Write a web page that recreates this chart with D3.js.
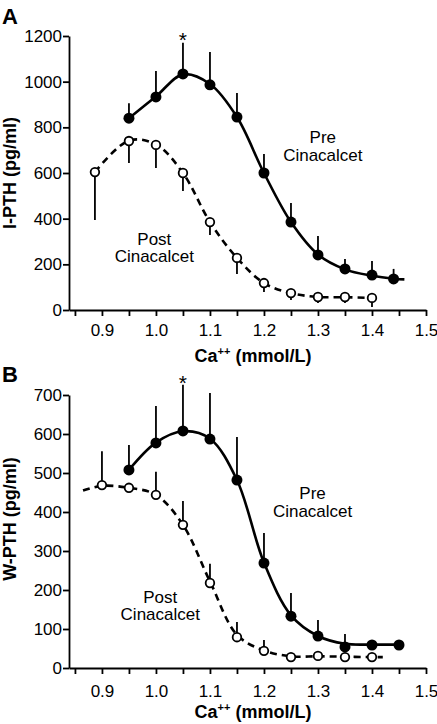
<!DOCTYPE html>
<html>
<head>
<meta charset="utf-8">
<script src="https://cdn.jsdelivr.net/npm/d3@7"></script>
<style>
  body { margin: 0; background: #fff; }
  svg { display: block; }
  text { font-family: "Liberation Sans", Arial, Helvetica, sans-serif; fill: #000; }
</style>
</head>
<body>
<svg id="chart" width="437" height="724"></svg>
<script>
// ---------- DATA ----------
// x-axis ticks (Ca++ mmol/L)
const xTicks = [0.85, 0.9, 0.95, 1.0, 1.05, 1.1, 1.15, 1.2, 1.25, 1.3, 1.35, 1.4, 1.45, 1.5];
const xTickLabels = ["", "0.9", "", "1.0", "", "1.1", "", "1.2", "", "1.3", "", "1.4", "", "1.5"];
const yTicksA = [0, 200, 400, 600, 800, 1000, 1200];
const yTicksB = [0, 100, 200, 300, 400, 500, 600, 700];

// Panel A: I-PTH (pg/ml)
const caA_pre = [0.95, 1.0, 1.05, 1.1, 1.15, 1.2, 1.25, 1.3, 1.35, 1.4, 1.44];
const pthA_pre = [840, 933, 1034, 986, 845, 600, 385, 241, 180, 153, 136];
const errA_preTop = [905, 1047, 1170, 1130, 950, 683, 469, 324, 223, 215, 180];
const caA_post = [0.887, 0.95, 1.0, 1.05, 1.1, 1.15, 1.2, 1.25, 1.3, 1.35, 1.4];
const pthA_post = [604, 740, 723, 600, 385, 228, 118, 74, 57, 57, 53];
const errA_postLow = [394, 644, 622, 521, 328, 158, 79, 44, 31, 31, 13];
// fitted curves, panel A
const fitA_pre_x = [0.95, 1.0, 1.05, 1.1, 1.15, 1.2, 1.25, 1.3, 1.35, 1.4, 1.44, 1.46];
const fitA_pre_y = [840, 935, 1032, 990, 845, 600, 385, 243, 178, 150, 137, 134];
const fitA_post_x = [0.887, 0.95, 1.0, 1.05, 1.1, 1.15, 1.2, 1.25, 1.3, 1.35, 1.4];
const fitA_post_y = [604, 742, 725, 600, 385, 228, 118, 74, 57, 56, 53];

// Panel B: W-PTH (pg/ml)
const caB_pre = [0.95, 1.0, 1.05, 1.1, 1.15, 1.2, 1.25, 1.3, 1.35, 1.4, 1.45];
const pthB_pre = [508, 577, 608, 587, 482, 269, 133, 82, 54, 59, 59];
const errB_preTop = [572, 672, 726, 705, 592, 346, 192, 123, 87, 59, 59];
const caB_post = [0.9, 0.95, 1.0, 1.05, 1.1, 1.15, 1.2, 1.25, 1.3, 1.35, 1.4];
const pthB_post = [469, 462, 444, 367, 218, 79, 44, 28, 31, 28, 28];
const errB_postTop = [556, 462, 503, 428, 267, 118, 72, 28, 31, 28, 28];
// fitted curves, panel B
const fitB_pre_x = [0.95, 1.0, 1.05, 1.1, 1.15, 1.2, 1.25, 1.3, 1.35, 1.4, 1.45];
const fitB_pre_y = [508, 578, 607, 588, 482, 270, 135, 82, 62, 60, 60];
const fitB_post_x = [0.865, 0.9, 0.95, 1.0, 1.05, 1.1, 1.15, 1.2, 1.25, 1.3, 1.35, 1.4, 1.42];
const fitB_post_y = [455, 467, 462, 444, 367, 222, 85, 45, 30, 30, 29, 28, 28];

// ---------- DRAWING ----------
const svg = d3.select("#chart");
const FONT_TICK = 17;

function panel(cfg) {
  const x = d3.scaleLinear().domain([0.839, 1.5]).range([69, 426]);
  const y = d3.scaleLinear().domain(cfg.yDomain).range([cfg.yBottom, cfg.yTop]);
  const g = svg.append("g");

  // axes
  const xAxis = d3.axisBottom(x).tickValues(xTicks)
    .tickFormat((d, i) => xTickLabels[i]).tickSize(6).tickSizeOuter(0).tickPadding(cfg.xPad);
  const gx = g.append("g").attr("transform", `translate(0,${cfg.yBottom})`).call(xAxis);
  const yAxis = d3.axisLeft(y).tickValues(cfg.yTicks).tickFormat(d3.format("d"))
    .tickSize(6).tickSizeOuter(0).tickPadding(1);
  const gy = g.append("g").attr("transform", "translate(69,0)").call(yAxis);
  [gx, gy].forEach(a => {
    a.selectAll("path.domain").attr("stroke", "#000").attr("stroke-width", 1.8);
    a.selectAll(".tick line").attr("stroke", "#000").attr("stroke-width", 1.8);
    a.selectAll(".tick text").attr("font-size", FONT_TICK)
      .attr("font-family", '"Liberation Sans", Arial, sans-serif').attr("fill", "#000");
  });

  // axis titles
  const xt = g.append("text").attr("x", 253).attr("y", cfg.xTitleY)
    .attr("text-anchor", "middle").attr("font-size", 18).attr("font-weight", "bold");
  xt.append("tspan").text("Ca");
  xt.append("tspan").text("++").attr("font-size", 11).attr("dy", -7);
  xt.append("tspan").text(" (mmol/L)").attr("dy", 7);

  g.append("text").attr("transform", `translate(16,${cfg.yTitleC}) rotate(-90)`)
    .attr("text-anchor", "middle").attr("font-size", 18).attr("font-weight", "bold")
    .text(cfg.yTitle);

  g.append("text").attr("x", 2).attr("y", cfg.letterY)
    .attr("font-size", 22).attr("font-weight", "bold").text(cfg.letter);

  // fitted curves
  const line = d3.line().x(d => x(d[0])).y(d => y(d[1])).curve(d3.curveCatmullRom.alpha(0.5));
  g.append("path").datum(d3.zip(cfg.fitPreX, cfg.fitPreY)).attr("d", line)
    .attr("fill", "none").attr("stroke", "#000").attr("stroke-width", 2.6);
  g.append("path").datum(d3.zip(cfg.fitPostX, cfg.fitPostY)).attr("d", line)
    .attr("fill", "none").attr("stroke", "#000").attr("stroke-width", 2.6)
    .attr("stroke-dasharray", "7,5");

  // error bars
  const pre = d3.zip(cfg.preX, cfg.preY, cfg.preErr);
  const post = d3.zip(cfg.postX, cfg.postY, cfg.postErr);
  g.selectAll(null).data(pre.concat(post)).join("line")
    .attr("x1", d => x(d[0])).attr("x2", d => x(d[0]))
    .attr("y1", d => y(d[1])).attr("y2", d => y(d[2]))
    .attr("stroke", "#000").attr("stroke-width", 1.8);

  // markers
  g.selectAll(null).data(post).join("circle")
    .attr("cx", d => x(d[0])).attr("cy", d => y(d[1])).attr("r", 4.3)
    .attr("fill", "#fff").attr("stroke", "#000").attr("stroke-width", 1.8);
  g.selectAll(null).data(pre).join("circle")
    .attr("cx", d => x(d[0])).attr("cy", d => y(d[1])).attr("r", 5.5)
    .attr("fill", "#000");

  // asterisk
  g.append("text").attr("x", x(1.05)).attr("y", cfg.starY)
    .attr("text-anchor", "middle").attr("font-size", 21).text("*");

  // labels
  function label(lx, ly, lines) {
    const t = g.append("text").attr("text-anchor", "middle").attr("font-size", 17);
    lines.forEach((s, i) => t.append("tspan").attr("x", x(lx)).attr("y", y(ly) + i * 17.5).text(s));
  }
  label(cfg.preLabel[0], cfg.preLabel[1], ["Pre", "Cinacalcet"]);
  label(cfg.postLabel[0], cfg.postLabel[1], ["Post", "Cinacalcet"]);
}

panel({
  yDomain: [0, 1200], yBottom: 310, yTop: 36, yTicks: yTicksA, xPad: 8,
  xTitleY: 362, yTitle: "I-PTH (pg/ml)", yTitleC: 173, letter: "A", letterY: 24,
  fitPreX: fitA_pre_x, fitPreY: fitA_pre_y, fitPostX: fitA_post_x, fitPostY: fitA_post_y,
  preX: caA_pre, preY: pthA_pre, preErr: errA_preTop,
  postX: caA_post, postY: pthA_post, postErr: errA_postLow,
  starY: 47, preLabel: [1.309, 731], postLabel: [0.997, 285]
});

panel({
  yDomain: [0, 700], yBottom: 668, yTop: 395, yTicks: yTicksB, xPad: 11,
  xTitleY: 718, yTitle: "W-PTH (pg/ml)", yTitleC: 519, letter: "B", letterY: 382,
  fitPreX: fitB_pre_x, fitPreY: fitB_pre_y, fitPostX: fitB_post_x, fitPostY: fitB_post_y,
  preX: caB_pre, preY: pthB_pre, preErr: errB_preTop,
  postX: caB_post, postY: pthB_post, postErr: errB_postTop,
  starY: 390, preLabel: [1.29, 433], postLabel: [1.008, 167]
});
</script>
</body>
</html>
